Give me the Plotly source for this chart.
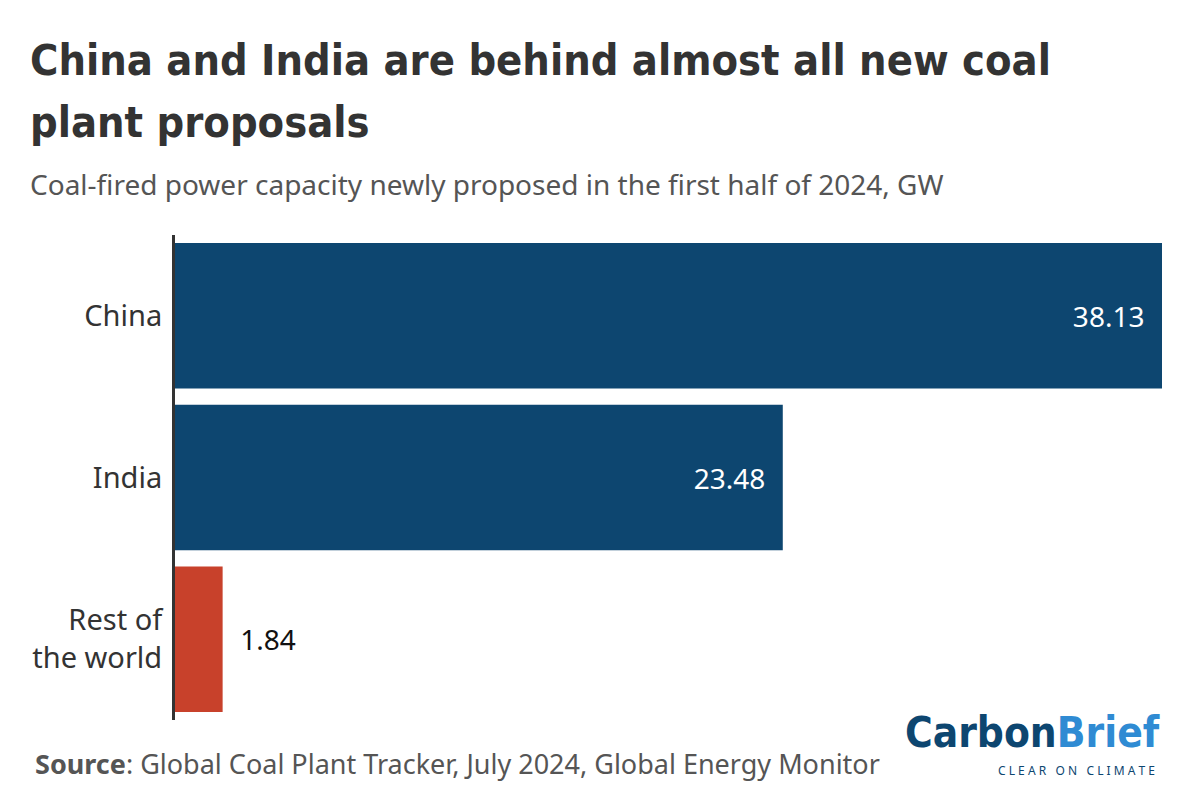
import plotly.graph_objects as go

# data
regions = ['China', 'India', 'Rest of<br>the world']
capacity_gw = [38.13, 23.48, 1.84]
bar_colors = ['#0d4670', '#0d4670', '#c8412b']
label_text = ['38.13\u00a0\u00a0', '23.48\u00a0\u00a0', '\u00a0\u00a01.84']
label_pos = ['inside', 'inside', 'outside']

title_font = "DejaVu Sans Condensed, sans-serif"
body_font = "Noto Sans, sans-serif"

W, H = 1200, 796
L, R, T, B = 167, 46, 227, 84
PW, PH = W - L - R, H - T - B


# page is shifted 8px by the body margin; convert screenshot px to paper coords
def px(x):
    return (x - 8 - L) / PW


def py(y):
    return (H - (y - 8) - B) / PH


fig = go.Figure(go.Bar(
    x=capacity_gw,
    y=regions,
    orientation='h',
    marker=dict(color=bar_colors, line=dict(width=0)),
    text=label_text,
    textposition=label_pos,
    insidetextanchor='end',
    insidetextfont=dict(family=body_font, size=28, color='white'),
    outsidetextfont=dict(family=body_font, size=28, color='#111111'),
    cliponaxis=False,
    hoverinfo='skip',
))

fig.update_layout(
    width=W, height=H,
    paper_bgcolor='white', plot_bgcolor='white',
    margin=dict(l=L, r=R, t=T, b=B),
    bargap=0.1,
    showlegend=False,
    xaxis=dict(range=[0, 38.13], visible=False, fixedrange=True),
    yaxis=dict(
        autorange='reversed',
        showline=True, linecolor='#333333', linewidth=3,
        showgrid=False, zeroline=False, ticks='',
        ticklabelstandoff=4,
        tickfont=dict(family=body_font, size=29, color='#333333'),
    ),
)

# title (two lines placed separately to control line spacing) and subtitle
for line, ytop in [("China and India are behind almost all new coal", 33),
                   ("plant proposals", 95)]:
    fig.add_annotation(
        text="<b>" + line + "</b>",
        xref='paper', yref='paper', x=px(28), y=py(ytop),
        xanchor='left', yanchor='top', align='left', showarrow=False,
        font=dict(family=title_font, size=43, color='#333333'),
    )
fig.add_annotation(
    text="Coal-fired power capacity newly proposed in the first half of 2024, GW",
    xref='paper', yref='paper', x=px(28), y=py(163),
    xanchor='left', yanchor='top', align='left', showarrow=False,
    font=dict(family=body_font, size=28, color='#555555'),
)

# source
fig.add_annotation(
    text="<b>Source</b>: Global Coal Plant Tracker, July 2024, Global Energy Monitor",
    xref='paper', yref='paper', x=px(33), y=py(743),
    xanchor='left', yanchor='top', align='left', showarrow=False,
    font=dict(family=body_font, size=27, color='#555555'),
)

# logo
fig.add_annotation(
    text="<b><span style='color:#0d4670'>Carbon</span><span style='color:#2f8bd3'>Brief</span></b>",
    xref='paper', yref='paper', x=px(1162), y=py(706),
    xanchor='right', yanchor='top', showarrow=False,
    font=dict(family=title_font, size=42),
)
fig.add_annotation(
    text="C L E A R   O N   C L I M A T E",
    xref='paper', yref='paper', x=px(1157), y=py(760),
    xanchor='right', yanchor='top', showarrow=False,
    font=dict(family=body_font, size=12, color='#0d4670'),
)

fig.write_html("out.html")
